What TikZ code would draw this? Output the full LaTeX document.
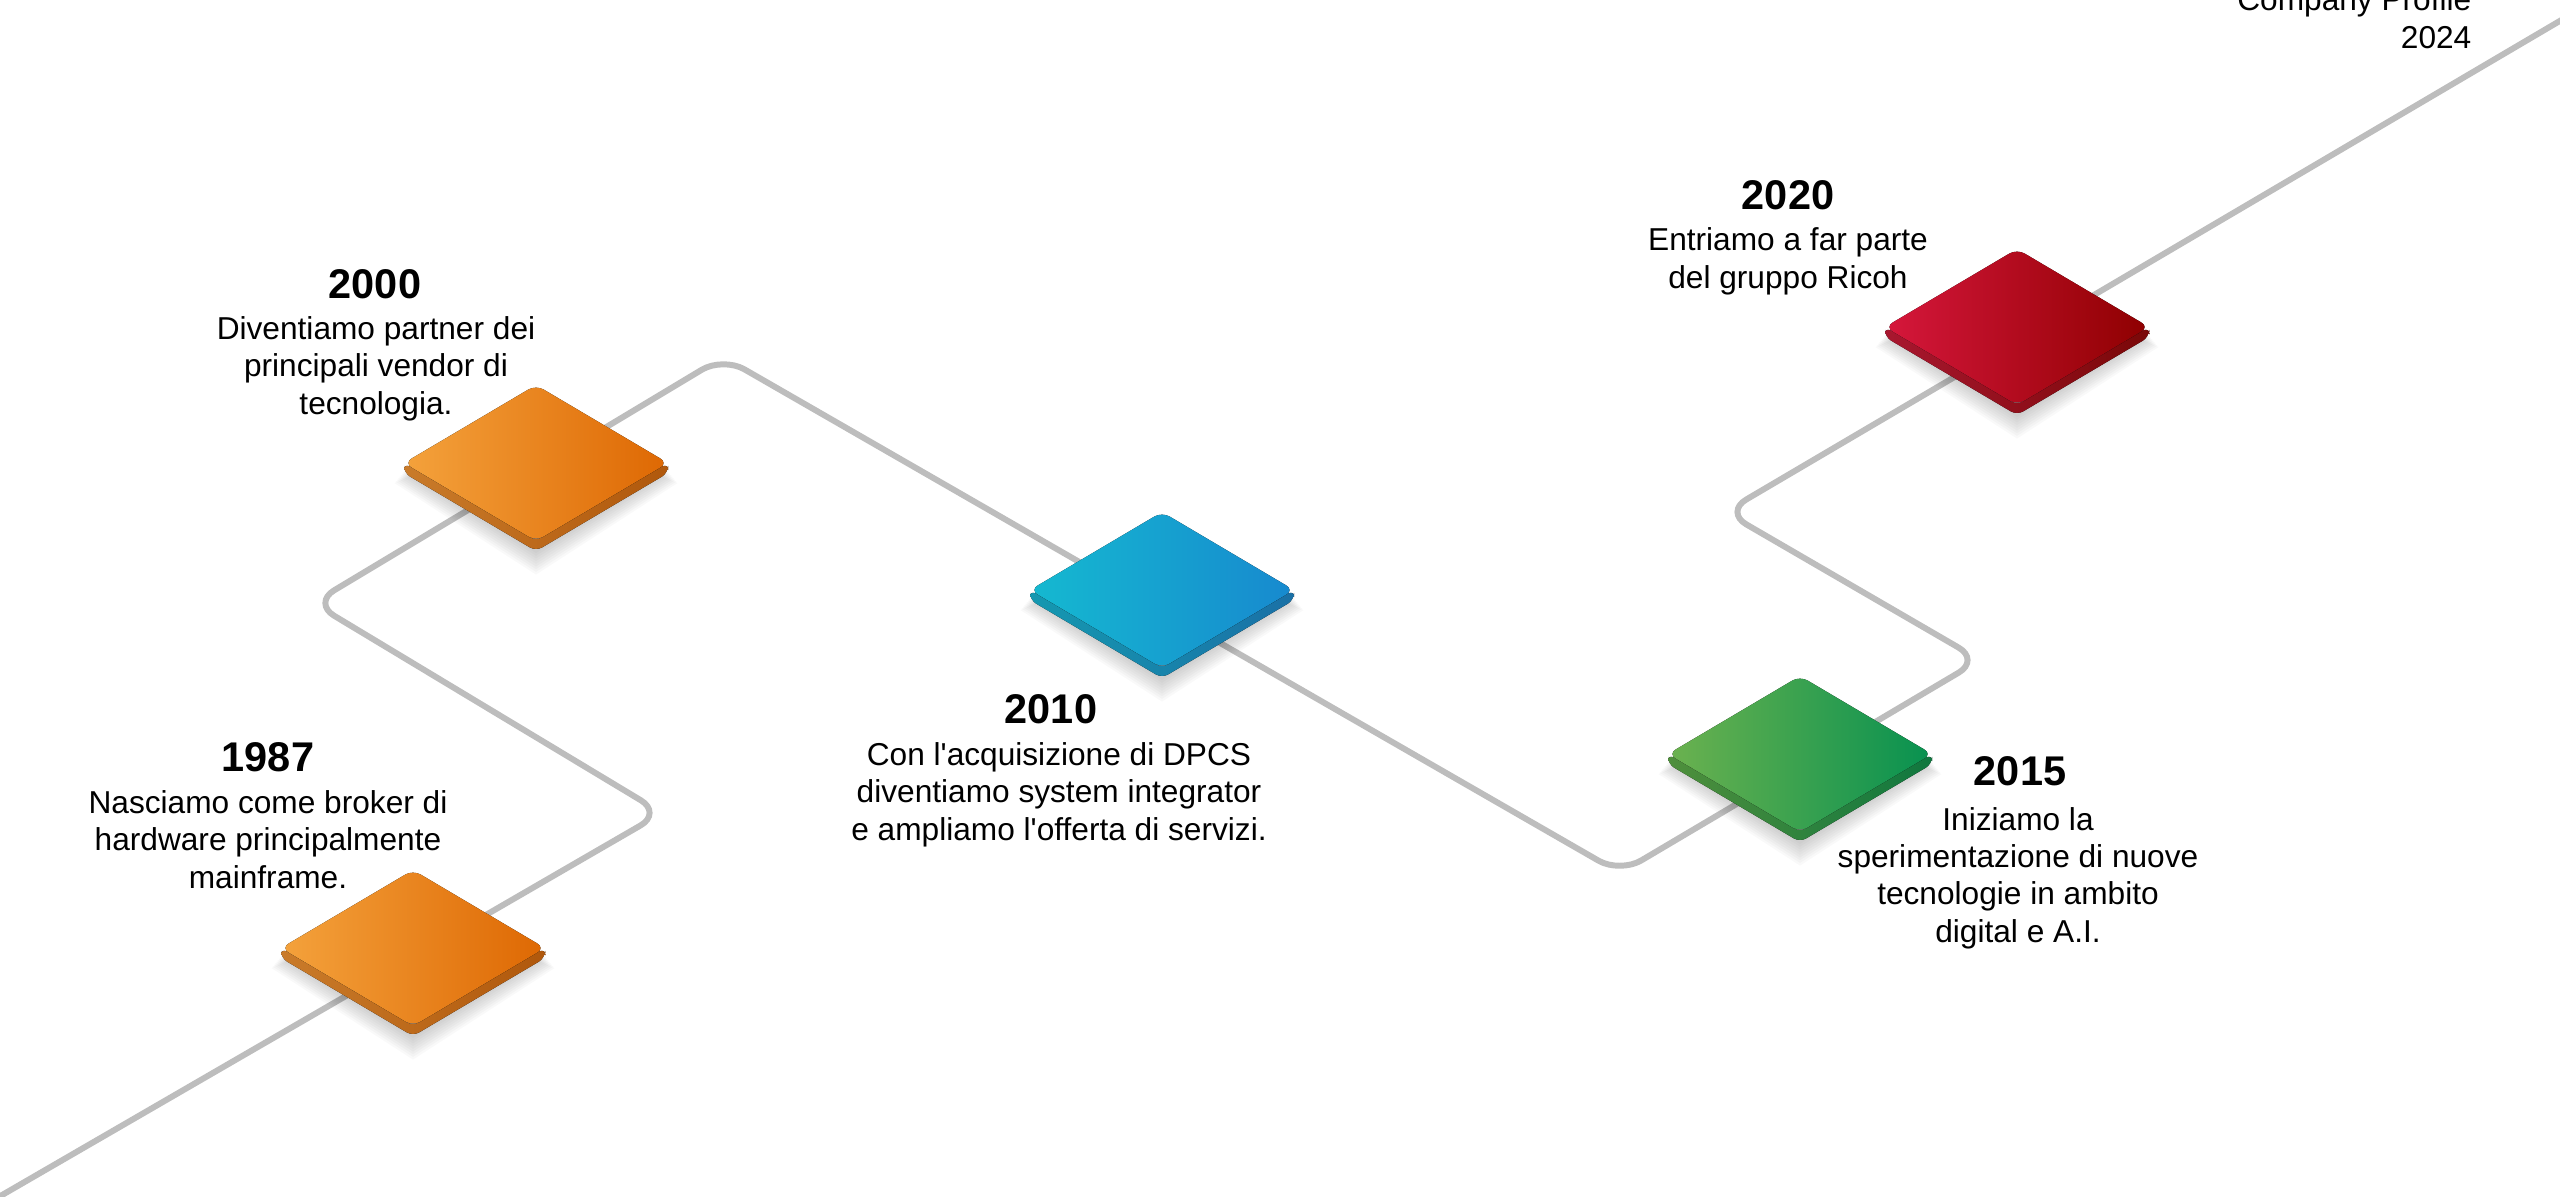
\documentclass[tikz,border=0pt]{standalone}
\usepackage{fontspec}
\setmainfont{Liberation Sans}
\definecolor{trackgray}{HTML}{BDBDBD}
\definecolor{orL}{HTML}{F4A23C}
\definecolor{orR}{HTML}{DE6803}
\definecolor{orSL}{HTML}{C97B2A}
\definecolor{orSR}{HTML}{B0580C}
\definecolor{blL}{HTML}{15B9D0}
\definecolor{blR}{HTML}{1789CF}
\definecolor{blSL}{HTML}{1598B0}
\definecolor{blSR}{HTML}{1A70A6}
\definecolor{grL}{HTML}{6CB24F}
\definecolor{grR}{HTML}{079150}
\definecolor{grSL}{HTML}{4F8F3C}
\definecolor{grSR}{HTML}{10773F}
\definecolor{rdL}{HTML}{D6173C}
\definecolor{rdR}{HTML}{8E0000}
\definecolor{rdSL}{HTML}{A8172F}
\definecolor{rdSR}{HTML}{7A0808}
\tikzset{
  track/.style={draw=trackgray, line width=1.7pt, rounded corners=7pt},
  yr/.style={font=\fontsize{11.8}{13}\selectfont\bfseries, anchor=base, inner sep=0pt},
  desc/.style={font=\fontsize{9}{10.6}\selectfont, align=center, anchor=base, inner sep=0pt},
}
\newcommand\isodia[5]{%
  \begin{scope}[shift={(#1)}]
    \foreach \e in {0,3,...,24} {
      \fill[black, opacity=0.025] (-132-0.4*\e, 8+0.5*\e) -- (0, -40) -- (132+0.4*\e, 8+0.5*\e) -- (0, 90+0.9*\e) -- cycle;
    }
    \fill[left color=#4, right color=#5, rounded corners=2pt]
      (-132,0) -- (0,78) -- (132,0) -- (132,10) -- (0,88) -- (-132,10) -- cycle;
    \fill[left color=#2, right color=#3, rounded corners=2.5pt]
      (-132,0) -- (0,-78) -- (132,0) -- (0,78) -- cycle;
  \end{scope}}
\begin{document}
\begin{tikzpicture}[x=0.01cm, y=-0.01cm]
  \useasboundingbox (0,0) rectangle (2560,1196);
  \clip (0,0) rectangle (2560,1196);
  % track vertices
  \coordinate (p0) at (-10,1202);
  \coordinate (pA) at (662,813);
  \coordinate (pB) at (313,603);
  \coordinate (pC) at (723,357);
  \coordinate (pD) at (1620,873);
  \coordinate (pE) at (1980,660);
  \coordinate (pF) at (1725,512);
  \coordinate (p1) at (2575,12);
  \draw[track] (p0) -- (pA) -- (pB) -- (pC) -- (pD) -- (pE) -- (pF) -- (p1);
  % diamond centres
  \coordinate (d1987) at (413,948);
  \coordinate (d2000) at (536,463);
  \coordinate (d2010) at (1162,590);
  \coordinate (d2015) at (1800,754);
  \coordinate (d2020) at (2017,327);
  \isodia{d1987}{orL}{orR}{orSL}{orSR}
  \isodia{d2000}{orL}{orR}{orSL}{orSR}
  \isodia{d2010}{blL}{blR}{blSL}{blSR}
  \isodia{d2015}{grL}{grR}{grSL}{grSR}
  \isodia{d2020}{rdL}{rdR}{rdSL}{rdSR}
  % texts (multi-line nodes: base = last line)
  \node[desc, anchor=base east, align=right] (cp) at (2472,48) {Company Profile\\2024};
  \node[yr] (y1987) at (268,771) {1987};
  \node[desc] (t1987) at (268,888) {Nasciamo come broker di\\hardware principalmente\\mainframe.};
  \node[yr] (y2000) at (375,298) {2000};
  \node[desc] (t2000) at (376,414) {Diventiamo partner dei\\principali vendor di\\tecnologia.};
  \node[yr] (y2010) at (1051,723) {2010};
  \node[desc] (t2010) at (1059,840) {Con l\textquotesingle acquisizione di DPCS\\diventiamo system integrator\\e ampliamo l\textquotesingle offerta di servizi.};
  \node[yr] (y2015) at (2020,785) {2015};
  \node[desc] (t2015) at (2018,942) {Iniziamo la\\sperimentazione di nuove\\tecnologie in ambito\\digital e A.I.};
  \node[yr] (y2020) at (1788,209) {2020};
  \node[desc] (t2020) at (1788,288) {Entriamo a far parte\\del gruppo Ricoh};
\end{tikzpicture}
\end{document}
